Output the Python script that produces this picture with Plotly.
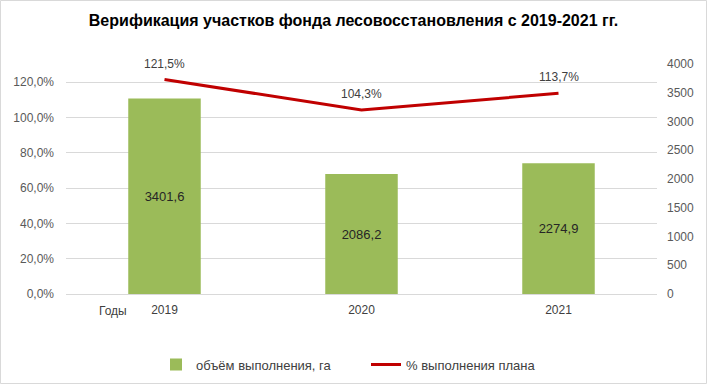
import plotly.graph_objects as go

years = ["2019", "2020", "2021"]
volume = [3401.6, 2086.2, 2274.9]
volume_labels = ["3401,6", "2086,2", "2274,9"]
percent = [1.215, 1.043, 1.137]
percent_labels = ["121,5%", "104,3%", "113,7%"]

W, H = 707, 384
L, R, T, B = 66, 50, 64, 90
pw, ph = W - L - R, H - T - B

fig = go.Figure()
fig.add_trace(go.Bar(
    x=years, y=volume, yaxis="y2", name="объём выполнения, га",
    marker=dict(color="#9BBB59", line=dict(width=0)),
    text=volume_labels, textposition="inside", insidetextanchor="middle",
    textfont=dict(family="Liberation Sans", size=13, color="#262626"),
    textangle=0,
))
fig.add_trace(go.Scatter(
    x=years, y=percent, yaxis="y", name="% выполнения плана",
    mode="lines", line=dict(color="#C00000", width=3),
))
for i, (yv, t) in enumerate(zip(percent, percent_labels)):
    fig.add_annotation(x=i, y=yv, xref="x", yref="y", text=t, showarrow=False,
                       yshift=16, font=dict(family="Liberation Sans", size=12, color="#404040"))

fig.add_annotation(x=(113 - L) / pw, y=0, xref="paper", yref="paper",
                   text="Годы", showarrow=False, xanchor="center", yanchor="middle", yshift=-16.5,
                   font=dict(family="Liberation Sans", size=12, color="#404040"))

fig.add_shape(type="rect", xref="paper", yref="paper",
              x0=(0.5 - L) / pw, x1=(W - 0.5 - L) / pw,
              y0=-(H - 0.5 - T - ph) / ph, y1=1 + (T - 0.5) / ph,
              line=dict(color="#D9D9D9", width=1), layer="below")

fig.update_layout(
    width=W, height=H,
    margin=dict(l=L, r=R, t=T, b=B, autoexpand=False),
    paper_bgcolor="white", plot_bgcolor="white",
    separators=", ",
    title=dict(text="<b>Верификация участков фонда лесовосстановления с 2019-2021 гг.</b>",
               x=0.5, xanchor="center", y=1 - 20 / H, yanchor="middle",
               font=dict(family="Liberation Sans", size=16, color="black")),
    bargap=0.632,
    showlegend=True,
    legend=dict(orientation="h", x=(156 - L) / pw, xanchor="left", y=-(364 - 293.5) / ph, yanchor="middle",
                font=dict(family="Liberation Sans", size=13, color="#404040"),
                traceorder="normal", entrywidth=165),
    xaxis=dict(type="category", range=[-0.5, 2.5], showgrid=False, showline=True, linecolor="#D9D9D9",
               automargin=False, ticklabelstandoff=5,
               tickfont=dict(family="Liberation Sans", size=12, color="#404040"), ticks=""),
    yaxis=dict(range=[0, 1.303], tickvals=[0, 0.2, 0.4, 0.6, 0.8, 1.0, 1.2], tickformat=".1%",
               showgrid=True, gridcolor="#D9D9D9", zeroline=False, showline=False, automargin=False,
               ticklabelstandoff=11,
               tickfont=dict(family="Liberation Sans", size=12, color="#595959"), ticks=""),
    yaxis2=dict(range=[0, 4000], dtick=500, overlaying="y", side="right", showgrid=False,
                zeroline=False, showline=False, automargin=False, ticklabelstandoff=9,
                tickfont=dict(family="Liberation Sans", size=12, color="#595959"), ticks=""),
)

fig.write_html("out.html", config={"displayModeBar": False},
               post_script="document.body.style.margin='0';")
